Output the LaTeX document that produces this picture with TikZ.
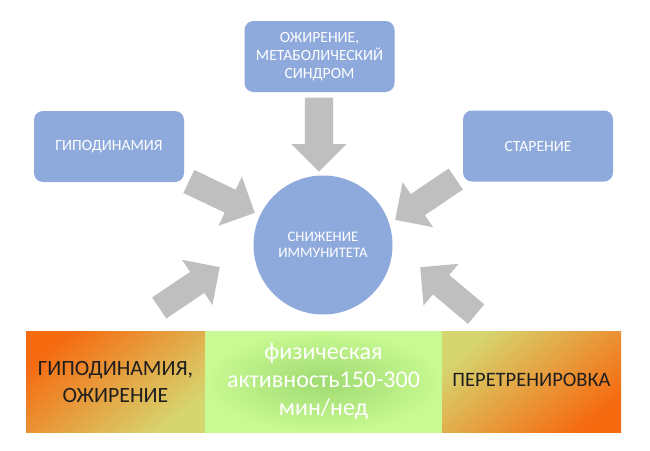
\documentclass[tikz,border=0pt]{standalone}
\usepackage{fontspec}
\setmainfont{Carlito}
\usetikzlibrary{shapes.arrows,positioning}
\definecolor{boxblue}{HTML}{8EA9DB}
\definecolor{pushgray}{HTML}{BFBFBF}
\definecolor{hotorange}{HTML}{F66A10}
\definecolor{warmyellow}{HTML}{D6D670}
\definecolor{palegreen}{HTML}{C8F992}
\definecolor{midgreen}{HTML}{A0DA72}
\definecolor{inkdark}{HTML}{1E1E1E}
\tikzset{%
  % blocks
  cause/.style={fill=boxblue, rounded corners=9pt, text=white, align=center,
    minimum width=150pt, minimum height=71pt, inner sep=2pt,
    font=\fontsize{15.6}{18}\selectfont},
  effect/.style={circle, fill=boxblue, text=white, align=center,
    minimum size=139pt, inner sep=0pt, font=\fontsize{14.6}{16.5}\selectfont},
  % bottom scale
  zone/.style={inner sep=0pt, outer sep=0pt, minimum height=101pt, align=center},
  sidezone/.style={zone, minimum width=179pt, text=inkdark,
    font=\fontsize{20.5}{27}\selectfont},
  midzone/.style={zone, minimum width=237pt, text=white,
    font=\fontsize{24}{28}\selectfont},
  % block arrows
  push/.style={single arrow, fill=pushgray, inner xsep=0pt, inner ysep=12.5pt,
    minimum height=73pt, minimum width=54pt, single arrow head extend=14.5pt,
    anchor=tip},
}

\begin{document}
\begin{tikzpicture}[x=1pt, y=-1pt]
  \useasboundingbox[fill=white] (0,0) rectangle (650,450);

  % Causes
  \node[cause] (obes) at (319.5,56.5) {ОЖИРЕНИЕ,\\МЕТАБОЛИЧЕСКИЙ\\СИНДРОМ};
  \node[cause] (hypo) at (109,146.5) {ГИПОДИНАМИЯ};
  \node[cause] (aging) at (538,146) {СТАРЕНИЕ};

  % Effect
  \node[effect] (immun) at (323,245) {СНИЖЕНИЕ\\ИММУНИТЕТА};

  % Scale
  \node[sidezone, top color=hotorange, bottom color=warmyellow, shading angle=40,
    font=\fontsize{21.8}{27}\selectfont]
    (lowzone) at (115.5,381.5) {ГИПОДИНАМИЯ,\\ОЖИРЕНИЕ};
  \node[midzone, inner color=midgreen, outer color=palegreen, right=0pt of lowzone]
    (midzone) {\raisebox{8pt}{\parbox{230pt}{\centering физическая\\активность150-300\\мин/нед}}};
  \node[sidezone, top color=warmyellow, bottom color=hotorange, shading angle=40,
    right=0pt of midzone] (highzone) {\raisebox{3pt}{ПЕРЕТРЕНИРОВКА}};

  % Block arrows
  \node[push, rotate=-90, inner ysep=14pt, single arrow head extend=13.5pt,
    minimum height=74pt] (aobes) at (319,172) {};
  \node[push, rotate=-25.5] (ahypo) at (255,213) {};
  \node[push, rotate=-146] (aaging) at (395,220) {};
  \node[push, rotate=34] (alow) at (220,267) {};
  \node[push, rotate=140] (ahigh) at (420,267) {};
\end{tikzpicture}
\end{document}
